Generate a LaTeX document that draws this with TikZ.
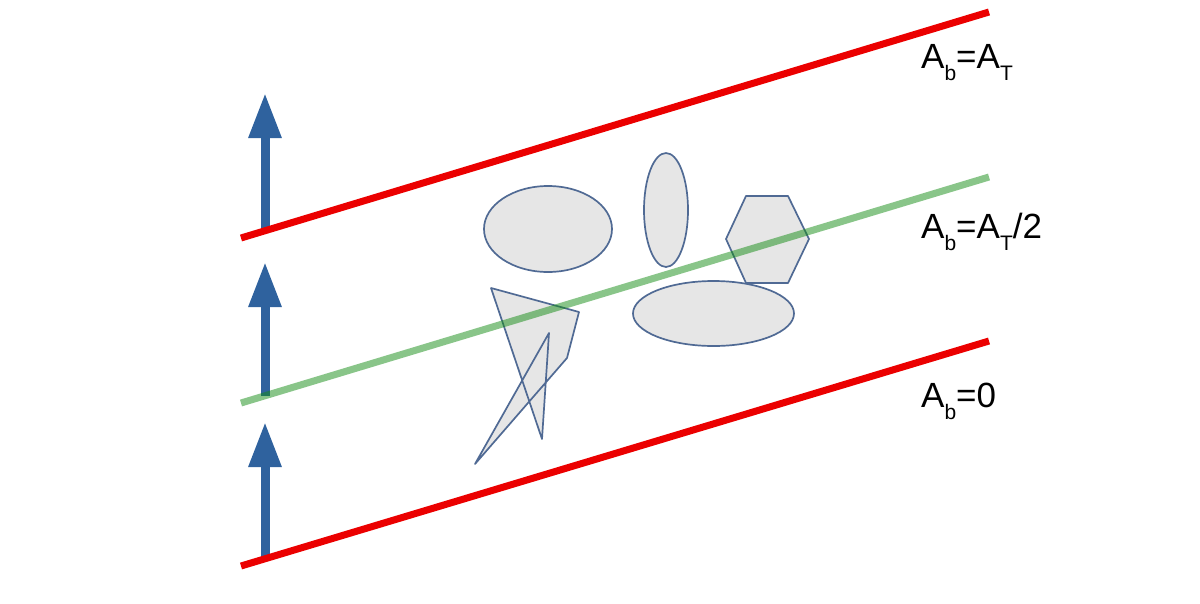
\documentclass[tikz,border=0pt]{standalone}
\usepackage{fontspec}
\setmainfont{Liberation Sans}
\usetikzlibrary{arrows.meta}
\definecolor{arrowblue}{RGB}{47,98,158}
\definecolor{shapefill}{RGB}{230,230,230}
\definecolor{shapeline}{RGB}{80,106,148}
\definecolor{lvlred}{RGB}{235,0,0}
\definecolor{lvlgreen}{RGB}{20,140,20}
\tikzset{
  uparrow/.style={draw=arrowblue, line width=9pt, -{Triangle[width=31pt,length=45pt]}},
  blob/.style={fill=shapefill, draw=shapeline, line width=1.7pt, line join=round},
  redline/.style={draw=lvlred, line width=7pt},
  greenline/.style={draw=lvlgreen, line width=7pt, draw opacity=0.5},
  lbl/.style={anchor=base west, inner sep=0pt, font=\fontsize{35}{40}\selectfont}
}
\newcommand{\sbs}[1]{\raisebox{-12pt}{\fontsize{21}{24}\selectfont #1}}
\begin{document}
\begin{tikzpicture}[x=1pt,y=-1pt]
\useasboundingbox (0,0) rectangle (1200,603);
% line end points
\coordinate (r1a) at (241,238); \coordinate (r1b) at (989,12);
\coordinate (ga) at (241,403);  \coordinate (gb) at (989,177);
\coordinate (r0a) at (241,566); \coordinate (r0b) at (989,341);
% arrow bases and tips
\coordinate (b1) at (265,231); \coordinate (t1) at (265,93);
\coordinate (b2) at (265,396); \coordinate (t2) at (265,262);
\coordinate (b3) at (265,559); \coordinate (t3) at (265,422);
\draw[uparrow] (b1) -- (t1);
\draw[uparrow] (b2) -- (t2);
\draw[uparrow] (b3) -- (t3);
% shapes
\path[blob] (548,229) ellipse [x radius=64, y radius=43];
\path[blob] (666,210) ellipse [x radius=22, y radius=57];
\path[blob] (713.5,313.5) ellipse [x radius=80.5, y radius=32.5];
\path[blob] (746,196) -- (788,196) -- (809,239) -- (788,283) -- (746,283) -- (726,239) -- cycle;
\path[blob] (491,288) -- (579,312) -- (567,358) -- (475,464) -- (549,333) -- (542,439) -- cycle;
% level lines
\draw[redline] (r1a) -- (r1b);
\draw[redline] (r0a) -- (r0b);
\draw[greenline] (ga) -- (gb);
% labels
\node[lbl] (l1) at (921,68) {A\sbs{b}=A\sbs{T}};
\node[lbl] (l2) at (921,238) {A\sbs{b}=A\sbs{T}/2};
\node[lbl] (l3) at (921,407) {A\sbs{b}=0};
\end{tikzpicture}
\end{document}
